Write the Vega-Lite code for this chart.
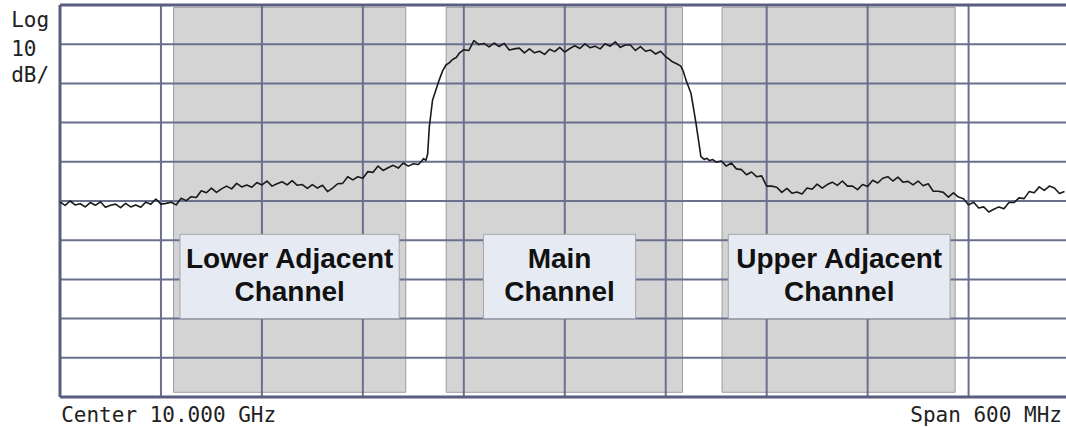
{
  "$schema": "https://vega.github.io/schema/vega-lite/v6.json",
  "width": 1006,
  "height": 392,
  "autosize": {"type": "none"},
  "padding": {"left": 60, "top": 5, "right": 0, "bottom": 30},
  "background": "white",
  "config": {"view": {"stroke": null}},
  "datasets": {
    "channels": [
      {"lo": -232.5, "hi": -94.5, "top": -0.6, "bot": -98.8},
      {"lo": -70.5, "hi": 70.0, "top": -0.6, "bot": -98.8},
      {"lo": 93.5, "hi": 232.0, "top": -0.6, "bot": -98.8}
    ],
    "vgrid": [{"f": -240}, {"f": -180}, {"f": -120}, {"f": -60}, {"f": 0}, {"f": 60}, {"f": 120}, {"f": 180}, {"f": 240}],
    "hgrid": [{"db": -10}, {"db": -20}, {"db": -30}, {"db": -40}, {"db": -50}, {"db": -60}, {"db": -70}, {"db": -80}, {"db": -90}],
    "vborder": [{"f": -300}],
    "hborder": [{"db": 0}, {"db": -100}],
    "boxes": [
      {"lo": -228.7, "hi": -98.4, "top": -58.5, "bot": -80.0},
      {"lo": -48.3, "hi": 42.1, "top": -58.5, "bot": -80.0},
      {"lo": 97.2, "hi": 229.0, "top": -58.5, "bot": -80.0}
    ],
    "labels": [
      {"f": -163.5, "db": -67.2, "t": "Lower Adjacent"},
      {"f": -163.5, "db": -75.6, "t": "Channel"},
      {"f": -3.1, "db": -67.2, "t": "Main"},
      {"f": -3.1, "db": -75.6, "t": "Channel"},
      {"f": 163.1, "db": -67.2, "t": "Upper Adjacent"},
      {"f": 163.1, "db": -75.6, "t": "Channel"}
    ],
    "lefttext": [
      {"f": -329, "db": -5.6, "t": "Log"},
      {"f": -329, "db": -13.0, "t": "10"},
      {"f": -329, "db": -19.7, "t": "dB/"},
      {"f": -299.3, "db": -106.5, "t": "Center 10.000 GHz"}
    ],
    "righttext": [
      {"f": 295.5, "db": -106.5, "t": "Span 600 MHz"}
    ],
    "trace": [
      {"f":-300,"db":-50.2},{"f":-297,"db":-51.1},{"f":-294,"db":-50.0},{"f":-291,"db":-51.0},{"f":-288,"db":-50.7},
      {"f":-285,"db":-51.5},{"f":-282,"db":-50.4},{"f":-279,"db":-51.1},{"f":-276,"db":-50.2},{"f":-273,"db":-51.6},
      {"f":-270,"db":-51.1},{"f":-267,"db":-50.8},{"f":-264,"db":-51.7},{"f":-261,"db":-50.6},{"f":-258,"db":-51.5},
      {"f":-255,"db":-51.0},{"f":-252,"db":-51.6},{"f":-249,"db":-50.3},{"f":-246,"db":-50.8},{"f":-243,"db":-49.5},
      {"f":-240,"db":-50.8},{"f":-237,"db":-50.6},{"f":-234,"db":-50.3},{"f":-231,"db":-51.0},{"f":-228,"db":-49.3},
      {"f":-225,"db":-49.9},{"f":-222,"db":-48.9},{"f":-219,"db":-49.1},{"f":-216,"db":-47.4},{"f":-213,"db":-47.9},
      {"f":-210,"db":-46.7},{"f":-207,"db":-47.8},{"f":-204,"db":-46.9},{"f":-201,"db":-46.2},{"f":-198,"db":-46.9},
      {"f":-195,"db":-45.5},{"f":-192,"db":-46.4},{"f":-189,"db":-45.9},{"f":-186,"db":-46.5},{"f":-183,"db":-45.3},
      {"f":-180,"db":-45.9},{"f":-177,"db":-44.9},{"f":-174,"db":-46.2},{"f":-171,"db":-45.6},{"f":-168,"db":-45.1},
      {"f":-165,"db":-45.9},{"f":-162,"db":-44.8},{"f":-159,"db":-46.0},{"f":-156,"db":-45.8},{"f":-153,"db":-46.8},
      {"f":-150,"db":-45.8},{"f":-147,"db":-46.7},{"f":-144,"db":-46.0},{"f":-141,"db":-47.6},{"f":-138,"db":-46.7},
      {"f":-135,"db":-45.6},{"f":-132,"db":-45.5},{"f":-129,"db":-43.8},{"f":-126,"db":-44.6},{"f":-123,"db":-43.8},
      {"f":-120,"db":-44.2},{"f":-117,"db":-42.5},{"f":-114,"db":-42.7},{"f":-111,"db":-41.1},{"f":-108,"db":-42.2},
      {"f":-105,"db":-41.5},{"f":-102,"db":-40.9},{"f":-99,"db":-41.6},{"f":-96,"db":-40.3},{"f":-93,"db":-41.1},
      {"f":-90,"db":-40.5},{"f":-87,"db":-40.7},{"f":-85,"db":-39.8},{"f":-84,"db":-39.2},{"f":-82.5,"db":-39.6},
      {"f":-81.5,"db":-38.0},{"f":-80.5,"db":-31.1},{"f":-78.6,"db":-24.3},{"f":-76.6,"db":-21.7},{"f":-74.6,"db":-19.1},
      {"f":-72.6,"db":-16.8},{"f":-70.6,"db":-15.3},{"f":-68.5,"db":-14.7},{"f":-66.7,"db":-13.9},{"f":-64.5,"db":-13.4},
      {"f":-62.7,"db":-12.3},{"f":-60,"db":-11.4},{"f":-57,"db":-11.6},{"f":-54,"db":-9.1},{"f":-51,"db":-10.1},
      {"f":-48,"db":-9.8},{"f":-45,"db":-10.7},{"f":-42,"db":-9.7},{"f":-39,"db":-10.6},{"f":-36,"db":-9.8},
      {"f":-33,"db":-11.5},{"f":-30,"db":-11.2},{"f":-27,"db":-11.0},{"f":-24,"db":-12.2},{"f":-21,"db":-11.2},
      {"f":-18,"db":-12.2},{"f":-15,"db":-11.8},{"f":-12,"db":-12.6},{"f":-9,"db":-11.3},{"f":-6,"db":-11.9},
      {"f":-3,"db":-10.8},{"f":0,"db":-12.0},{"f":3,"db":-11.1},{"f":6,"db":-10.4},{"f":9,"db":-11.1},
      {"f":12,"db":-9.9},{"f":15,"db":-10.9},{"f":18,"db":-10.5},{"f":21,"db":-11.2},{"f":24,"db":-9.9},
      {"f":27,"db":-10.5},{"f":30,"db":-9.4},{"f":33,"db":-10.8},{"f":36,"db":-10.2},{"f":39,"db":-10.2},
      {"f":42,"db":-11.6},{"f":45,"db":-10.6},{"f":48,"db":-11.8},{"f":51,"db":-11.5},{"f":54,"db":-12.5},
      {"f":57,"db":-11.8},{"f":60,"db":-13.2},{"f":62,"db":-13.8},{"f":64,"db":-14.5},{"f":66.5,"db":-15.0},
      {"f":69,"db":-15.6},{"f":70.5,"db":-17.0},{"f":72,"db":-19.1},{"f":73.5,"db":-20.8},{"f":75,"db":-22.5},
      {"f":76,"db":-25.0},{"f":77,"db":-27.6},{"f":78,"db":-30.2},{"f":78.9,"db":-32.8},{"f":80,"db":-36.0},
      {"f":80.9,"db":-38.7},{"f":82.9,"db":-39.4},{"f":84.5,"db":-39.1},{"f":86,"db":-39.7},{"f":87.8,"db":-39.4},
      {"f":90,"db":-40.1},{"f":93,"db":-39.8},{"f":96,"db":-41.1},{"f":99,"db":-40.3},{"f":102,"db":-41.8},
      {"f":105,"db":-42.0},{"f":108,"db":-43.3},{"f":111,"db":-42.6},{"f":114,"db":-43.8},{"f":117,"db":-43.6},
      {"f":120,"db":-46.2},{"f":123,"db":-46.2},{"f":126,"db":-46.5},{"f":129,"db":-47.8},{"f":132,"db":-46.8},
      {"f":135,"db":-48.0},{"f":138,"db":-47.7},{"f":141,"db":-48.2},{"f":144,"db":-46.7},{"f":147,"db":-47.0},
      {"f":150,"db":-45.7},{"f":153,"db":-46.7},{"f":156,"db":-45.8},{"f":159,"db":-45.2},{"f":162,"db":-46.0},
      {"f":165,"db":-44.9},{"f":168,"db":-46.2},{"f":171,"db":-46.2},{"f":174,"db":-47.1},{"f":177,"db":-45.8},
      {"f":180,"db":-46.3},{"f":183,"db":-44.7},{"f":186,"db":-45.4},{"f":189,"db":-44.2},{"f":192,"db":-43.8},
      {"f":195,"db":-44.9},{"f":198,"db":-43.9},{"f":201,"db":-45.2},{"f":204,"db":-45.0},{"f":207,"db":-45.9},
      {"f":210,"db":-44.9},{"f":213,"db":-46.1},{"f":216,"db":-45.6},{"f":219,"db":-47.5},{"f":222,"db":-47.5},
      {"f":225,"db":-47.8},{"f":228,"db":-49.0},{"f":231,"db":-47.9},{"f":234,"db":-49.0},{"f":237,"db":-49.4},
      {"f":240,"db":-51.0},{"f":243,"db":-50.3},{"f":246,"db":-51.8},{"f":249,"db":-51.5},{"f":252,"db":-52.8},
      {"f":255,"db":-52.1},{"f":258,"db":-51.5},{"f":261,"db":-52.0},{"f":264,"db":-50.4},{"f":267,"db":-50.4},
      {"f":270,"db":-49.2},{"f":273,"db":-49.4},{"f":276,"db":-47.6},{"f":279,"db":-47.9},{"f":282,"db":-46.4},
      {"f":285,"db":-47.3},{"f":288,"db":-46.2},{"f":291,"db":-46.7},{"f":294,"db":-48.1},{"f":297,"db":-47.6}
    ]
  },
  "layer": [
    {
      "data": {"name": "channels"},
      "mark": {"type": "rect", "fill": "#d4d4d4", "stroke": "#9c9c9c", "strokeWidth": 1},
      "encoding": {
        "x": {"field": "lo", "type": "quantitative", "scale": {"domain": [-300, 297.9], "nice": false, "zero": false}, "axis": null},
        "x2": {"field": "hi"},
        "y": {"field": "top", "type": "quantitative", "scale": {"domain": [-100, 0], "nice": false, "zero": false}, "axis": null},
        "y2": {"field": "bot"}
      }
    },
    {
      "data": {"name": "vgrid"},
      "mark": {"type": "rule", "stroke": "#6b6f8e", "strokeWidth": 2},
      "encoding": {
        "x": {"field": "f", "type": "quantitative", "scale": {"domain": [-300, 297.9], "nice": false, "zero": false}, "axis": null}
      }
    },
    {
      "data": {"name": "hgrid"},
      "mark": {"type": "rule", "stroke": "#6b6f8e", "strokeWidth": 2},
      "encoding": {
        "y": {"field": "db", "type": "quantitative", "scale": {"domain": [-100, 0], "nice": false, "zero": false}, "axis": null}
      }
    },
    {
      "data": {"name": "vborder"},
      "mark": {"type": "rule", "stroke": "#5a5e7e", "strokeWidth": 3},
      "encoding": {
        "x": {"field": "f", "type": "quantitative", "scale": {"domain": [-300, 297.9], "nice": false, "zero": false}, "axis": null}
      }
    },
    {
      "data": {"name": "hborder"},
      "mark": {"type": "rule", "stroke": "#5a5e7e", "strokeWidth": 3},
      "encoding": {
        "y": {"field": "db", "type": "quantitative", "scale": {"domain": [-100, 0], "nice": false, "zero": false}, "axis": null}
      }
    },
    {
      "data": {"name": "trace"},
      "mark": {"type": "line", "stroke": "#1a1a1a", "strokeWidth": 1.6, "strokeJoin": "round"},
      "encoding": {
        "x": {"field": "f", "type": "quantitative", "scale": {"domain": [-300, 297.9], "nice": false, "zero": false}, "axis": null},
        "y": {"field": "db", "type": "quantitative", "scale": {"domain": [-100, 0], "nice": false, "zero": false}, "axis": null},
        "order": {"field": "f", "type": "quantitative"}
      }
    },
    {
      "data": {"name": "boxes"},
      "mark": {"type": "rect", "fill": "#e6eaf3", "stroke": "#a4a6ac", "strokeWidth": 1},
      "encoding": {
        "x": {"field": "lo", "type": "quantitative", "scale": {"domain": [-300, 297.9], "nice": false, "zero": false}, "axis": null},
        "x2": {"field": "hi"},
        "y": {"field": "top", "type": "quantitative", "scale": {"domain": [-100, 0], "nice": false, "zero": false}, "axis": null},
        "y2": {"field": "bot"}
      }
    },
    {
      "data": {"name": "labels"},
      "mark": {"type": "text", "font": "Liberation Sans", "fontWeight": "bold", "fontSize": 28, "align": "center", "baseline": "alphabetic", "color": "#111111"},
      "encoding": {
        "x": {"field": "f", "type": "quantitative", "scale": {"domain": [-300, 297.9], "nice": false, "zero": false}, "axis": null},
        "y": {"field": "db", "type": "quantitative", "scale": {"domain": [-100, 0], "nice": false, "zero": false}, "axis": null},
        "text": {"field": "t", "type": "nominal"}
      }
    },
    {
      "data": {"name": "lefttext"},
      "mark": {"type": "text", "font": "DejaVu Sans Mono", "fontSize": 21, "align": "left", "baseline": "alphabetic", "color": "#222222"},
      "encoding": {
        "x": {"field": "f", "type": "quantitative", "scale": {"domain": [-300, 297.9], "nice": false, "zero": false}, "axis": null},
        "y": {"field": "db", "type": "quantitative", "scale": {"domain": [-100, 0], "nice": false, "zero": false}, "axis": null},
        "text": {"field": "t", "type": "nominal"}
      }
    },
    {
      "data": {"name": "righttext"},
      "mark": {"type": "text", "font": "DejaVu Sans Mono", "fontSize": 21, "align": "right", "baseline": "alphabetic", "color": "#222222"},
      "encoding": {
        "x": {"field": "f", "type": "quantitative", "scale": {"domain": [-300, 297.9], "nice": false, "zero": false}, "axis": null},
        "y": {"field": "db", "type": "quantitative", "scale": {"domain": [-100, 0], "nice": false, "zero": false}, "axis": null},
        "text": {"field": "t", "type": "nominal"}
      }
    }
  ]
}
